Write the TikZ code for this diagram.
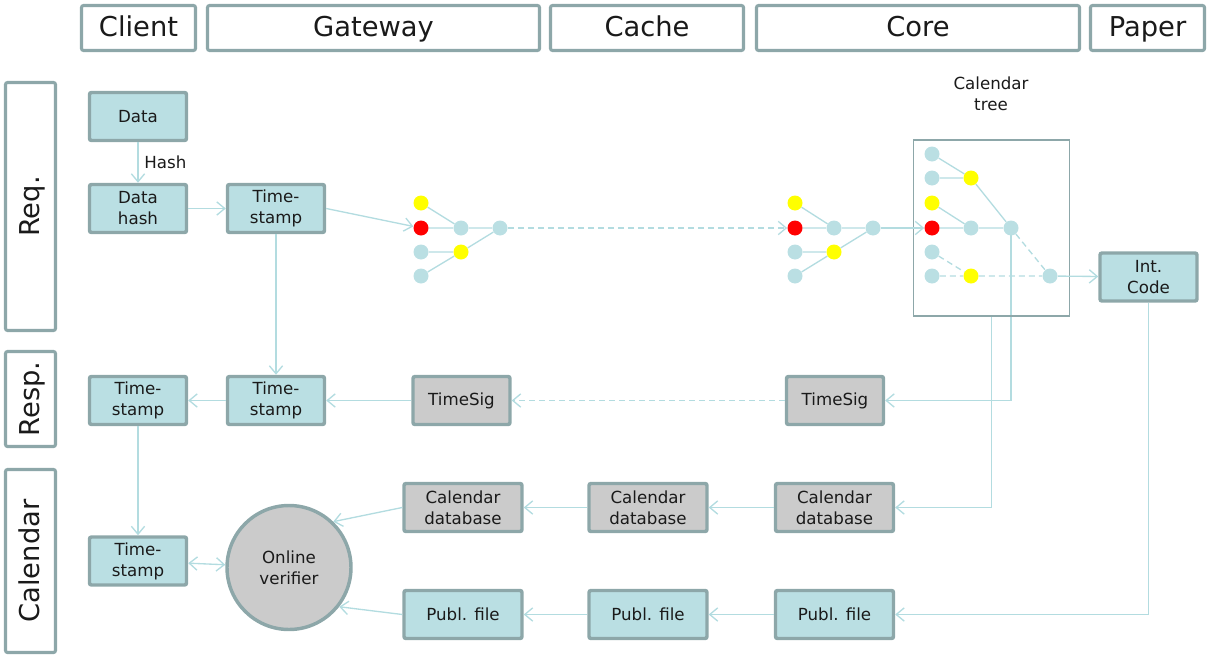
\documentclass[tikz,border=0pt]{standalone}
\usepackage{fontspec}
\setmainfont{DejaVu Sans}
\usetikzlibrary{arrows.meta}
\pgfdeclarelayer{bg}
\pgfsetlayers{bg,main}
\definecolor{bfill}{HTML}{BADFE3}
\definecolor{bdraw}{HTML}{8DA7A9}
\definecolor{gfill}{HTML}{CBCBCB}
\definecolor{ln}{HTML}{B3DCE0}
\definecolor{yel}{HTML}{FFFF00}
\definecolor{rd}{HTML}{FF0000}
\definecolor{txt}{HTML}{1A1A1A}
\begin{document}
\begin{tikzpicture}[x=0.75pt,y=-0.75pt,
  box/.style={draw=bdraw, line width=2.6pt, fill=bfill, rounded corners=1.5pt,
    minimum width=72.75pt, minimum height=36pt, inner sep=0pt, align=center,
    font=\fontsize{12.5}{15.75}\selectfont, text=txt},
  gbox/.style={box, fill=gfill},
  wide/.style={minimum width=88.5pt},
  hdr/.style={draw=bdraw, line width=2.3pt, fill=white, rounded corners=1.5pt,
    inner sep=0pt, minimum height=33.75pt, font=\fontsize{20.5}{24}\selectfont, text=txt,
    text height=16pt, text depth=3pt},
  side/.style={hdr, rotate=90, minimum height=37.5pt},
  con/.style={draw=ln, line width=1pt, -{Straight Barb[length=6pt,width=10pt]}},
  edge/.style={draw=ln, line width=1pt},
  dsh/.style={dash pattern=on 4.5pt off 3pt},
  dot/.style={circle, fill=#1, minimum size=11.25pt, inner sep=0pt},
  lbl/.style={font=\fontsize{12.5}{15.75}\selectfont, text=txt, align=center},
]
\path[use as bounding box] (0,0) rectangle (1208,657);

% headers
\node[hdr, minimum width=85.5pt] (hclient) at (138.5,28) {Client};
\node[hdr, minimum width=249pt] (hgate) at (373.5,28) {Gateway};
\node[hdr, minimum width=144.75pt] (hcache) at (647,28) {Cache};
\node[hdr, minimum width=242.25pt] (hcore) at (918,28) {Core};
\node[hdr, minimum width=85.5pt] (hpaper) at (1147.5,28) {Paper};

\node[side, minimum width=186pt] (sreq) at (30.5,206.5) {Req.};
\node[side, minimum width=71.25pt] (sresp) at (30.5,399) {Resp.};
\node[side, minimum width=137.25pt] (scal) at (30.5,561) {Calendar};

% boxes
\node[box] (data) at (138,116.5) {Data};
\node[box] (dh) at (138,208.5) {Data\\hash};
\node[box] (tsq) at (276,208.5) {Time-\\stamp};
\node[box] (tsl) at (138,400.5) {Time-\\stamp};
\node[box] (tsr) at (276,400.5) {Time-\\stamp};
\node[gbox] (sig1) at (461.5,400.5) {TimeSig};
\node[gbox] (sig2) at (835,400.5) {TimeSig};
\node[gbox, wide] (cdb1) at (463,507.5) {Calendar\\database};
\node[gbox, wide] (cdb2) at (648,507.5) {Calendar\\database};
\node[gbox, wide] (cdb3) at (834.5,507.5) {Calendar\\database};
\node[box, wide] (pf1) at (463,614.5) {Publ. file};
\node[box, wide] (pf2) at (648,614.5) {Publ. file};
\node[box, wide] (pf3) at (834.5,614.5) {Publ. file};
\node[box] (tscal) at (138,561) {Time-\\stamp};
\node[box] (int) at (1148.5,277) {Int.\\Code};
\node[gbox, circle, minimum size=93pt] (ov) at (289,567.5) {Online\\verifier};

% calendar tree box
\node[draw=bdraw, line width=1.1pt, minimum width=117pt, minimum height=132pt, inner sep=0pt] (treebox) at (991.5,228) {};
\node[lbl] (treelbl) at (991,94) {Calendar\\tree};

% tree 1 (gateway)
\node[dot=yel] (a1) at (421,203) {};
\node[dot=rd] (a2) at (421,228) {};
\node[dot=bfill] (a3) at (421,252) {};
\node[dot=bfill] (a4) at (421,276) {};
\node[dot=bfill] (a5) at (461,228) {};
\node[dot=yel] (a6) at (461,252) {};
\node[dot=bfill] (a7) at (500,228) {};
% tree 2 (core)
\node[dot=yel] (b1) at (795,203) {};
\node[dot=rd] (b2) at (795,228) {};
\node[dot=bfill] (b3) at (795,252) {};
\node[dot=bfill] (b4) at (795,276) {};
\node[dot=bfill] (b5) at (834,228) {};
\node[dot=yel] (b6) at (834,252) {};
\node[dot=bfill] (b7) at (873,228) {};
% tree 3 (calendar tree)
\node[dot=bfill] (c1) at (932,154) {};
\node[dot=bfill] (c2) at (932,178) {};
\node[dot=yel] (c3) at (932,203) {};
\node[dot=rd] (c4) at (932,228) {};
\node[dot=bfill] (c5) at (932,252) {};
\node[dot=bfill] (c6) at (932,276) {};
\node[dot=yel] (c7) at (971,178) {};
\node[dot=bfill] (c8) at (971,228) {};
\node[dot=yel] (c9) at (971,276) {};
\node[dot=bfill] (c10) at (1011,228) {};
\node[dot=bfill] (c11) at (1050,276) {};

\begin{pgfonlayer}{bg}
% tree edges
\path[edge] (a1) -- (a5) (a2) -- (a5) (a3) -- (a6) (a4) -- (a6) (a5) -- (a7) (a6) -- (a7);
\path[edge] (b1) -- (b5) (b2) -- (b5) (b3) -- (b6) (b4) -- (b6) (b5) -- (b7) (b6) -- (b7);
\path[edge] (c1) -- (c7) (c2) -- (c7) (c7) -- (c10) (c3) -- (c8) (c4) -- (c8) (c8) -- (c10);
\path[edge, dsh] (c10) -- (c11) (c5) -- (c9) (c6) -- (c9) (c9) -- (c11);
\draw[con] (c10.center) -- (c10 |- sig2.east) -- (sig2.east);
\draw[con] (treebox.south) |- (cdb3.east);
\end{pgfonlayer}

% connectors
\draw[con] (data) -- node[lbl, right, xshift=1pt] {Hash} (dh);
\draw[con] (dh) -- (tsq);
\draw[con] (tsq.east) -- (a2);
\draw[con, dsh] (a7) -- (b2);
\draw[con] (b7) -- (c4);
\draw[con] (c11) -- (int);
\draw[con] (tsq) -- (tsr);
\draw[con, dsh] (sig2) -- (sig1);
\draw[con] (sig1) -- (tsr);
\draw[con] (tsr) -- (tsl);
\draw[con] (tsl) -- (tscal);
\draw[con, {Straight Barb[length=6pt,width=10pt]}-{Straight Barb[length=6pt,width=10pt]}] (tscal) -- (ov);
\draw[con] (cdb3) -- (cdb2);
\draw[con] (cdb2) -- (cdb1);
\draw[con] (cdb1.west) -- (ov.46);
\draw[con] (int.south) |- (pf3.east);
\draw[con] (pf3) -- (pf2);
\draw[con] (pf2) -- (pf1);
\draw[con] (pf1.west) -- (ov.-38);
\end{tikzpicture}
\end{document}
